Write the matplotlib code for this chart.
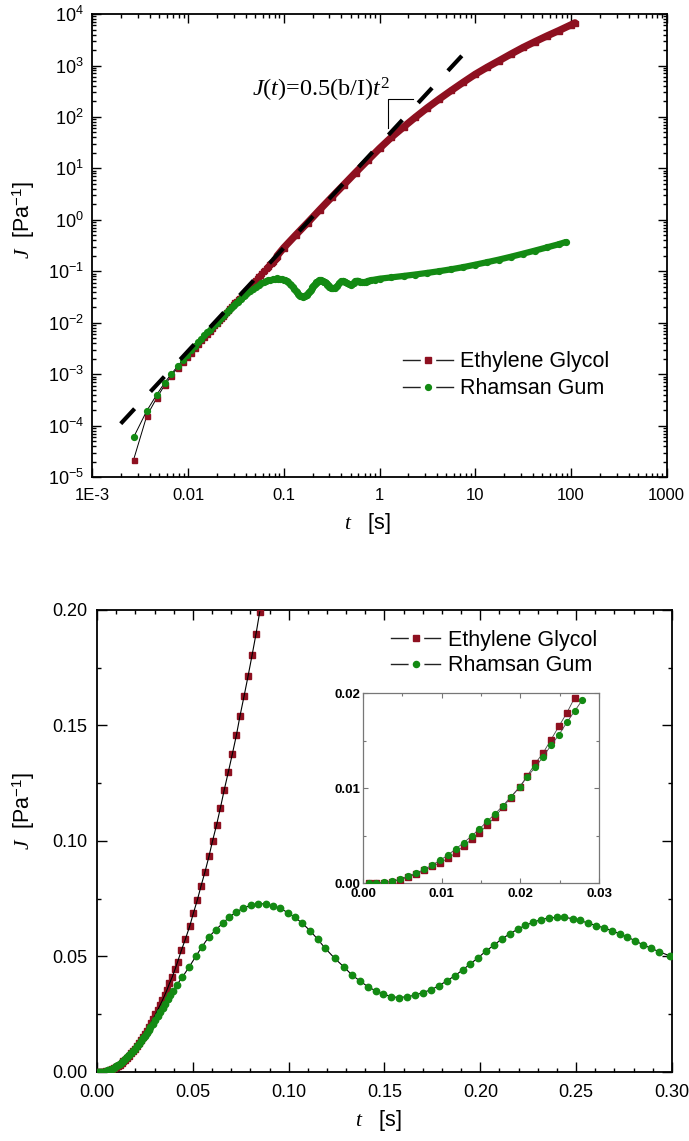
import numpy as np
import matplotlib
matplotlib.use('Agg')
from matplotlib import pyplot as plt
from matplotlib.lines import Line2D
from matplotlib.legend_handler import HandlerTuple
from matplotlib.ticker import FixedLocator, FixedFormatter, LogLocator, MultipleLocator, FormatStrFormatter, NullFormatter

plt.rcParams['font.family'] = 'Liberation Sans'
plt.rcParams['mathtext.fontset'] = 'custom'
plt.rcParams['mathtext.rm'] = 'Liberation Serif'
plt.rcParams['mathtext.it'] = 'Liberation Serif:italic'
plt.rcParams['mathtext.bf'] = 'Liberation Serif:bold'

# ---- short time data (shared by inset, linear plot and log plot) ----
t_early = [0.0007, 0.0017, 0.0027, 0.0037, 0.0047, 0.0057, 0.0067, 0.0078, 0.0088, 0.0098,
           0.0108, 0.0118, 0.0128, 0.0138, 0.0148, 0.0158, 0.0168, 0.0178, 0.0188, 0.0199,
           0.0209, 0.0219, 0.0229, 0.0239, 0.0249, 0.0259, 0.0269, 0.0279]
J_eg_early = [0, 0, 2.2e-5, 1.55e-4, 3.45e-4, 6.2e-4, 9.3e-4, 1.35e-3, 1.75e-3, 2.15e-3,
              2.6e-3, 3.2e-3, 3.9e-3, 4.6e-3, 5.3e-3, 6.1e-3, 7.0e-3, 8.0e-3, 9.0e-3, 10.1e-3,
              11.3e-3, 12.6e-3, 13.7e-3, 15.1e-3, 16.5e-3, 17.9e-3, 19.5e-3]
J_rg_early = [0, 0, 6e-5, 1.95e-4, 4.0e-4, 6.9e-4, 1.02e-3, 1.45e-3, 1.9e-3, 2.4e-3,
              2.95e-3, 3.6e-3, 4.25e-3, 4.95e-3, 5.7e-3, 6.5e-3, 7.3e-3, 8.15e-3, 9.1e-3, 10.1e-3,
              11.2e-3, 12.2e-3, 13.3e-3, 14.5e-3, 15.6e-3, 16.9e-3, 18.1e-3, 19.3e-3]

t_eg_mid = [0.0281, 0.0293, 0.0305, 0.0317, 0.0329, 0.0341, 0.0353, 0.0365, 0.0378, 0.0393,
            0.0407, 0.0421, 0.0440, 0.0461, 0.0484, 0.0503, 0.0524, 0.0543, 0.0563, 0.0584,
            0.0603, 0.0624, 0.0644, 0.0664, 0.0685, 0.0706, 0.0727, 0.0746, 0.0767, 0.0788,
            0.0809, 0.0830, 0.0849]
J_eg_mid = [0.0212, 0.0230, 0.0249, 0.0269, 0.0289, 0.0310, 0.0332, 0.0355, 0.0383, 0.0412,
            0.0444, 0.0478, 0.0526, 0.0575, 0.0632, 0.0688, 0.0746, 0.0806, 0.0865, 0.0933,
            0.1001, 0.1070, 0.1144, 0.1222, 0.1298, 0.1376, 0.1457, 0.1541, 0.1626, 0.1713,
            0.1804, 0.1898, 0.1992]

t_rg_mid = [0.0292, 0.0305, 0.0318, 0.0331, 0.0344, 0.0357, 0.0370, 0.0383, 0.0396, 0.0416,
            0.0445, 0.0482, 0.0515, 0.0546, 0.0583, 0.0619, 0.0656, 0.0690, 0.0725, 0.0763,
            0.0803, 0.0842, 0.0880, 0.0920, 0.0957, 0.0995, 0.1033, 0.1071, 0.1111, 0.1151,
            0.1190, 0.1240, 0.1289, 0.1330, 0.1372, 0.1412, 0.1454, 0.1494, 0.1536, 0.1576,
            0.1617, 0.1659, 0.1699, 0.1741, 0.1783, 0.1825, 0.1866, 0.1908, 0.1948, 0.1988,
            0.2030, 0.2071, 0.2111, 0.2153, 0.2195, 0.2235, 0.2277, 0.2317, 0.2359, 0.2399,
            0.2439, 0.2481, 0.2521, 0.2563, 0.2603, 0.2645, 0.2687, 0.2727, 0.2767, 0.2809,
            0.2849, 0.2891, 0.2931, 0.2988]
J_rg_mid = [0.0208, 0.0225, 0.0242, 0.0260, 0.0278, 0.0296, 0.0314, 0.0332, 0.0350, 0.0377,
            0.0410, 0.0456, 0.0500, 0.0540, 0.0584, 0.0615, 0.0644, 0.0670, 0.0692, 0.0709,
            0.0722, 0.0729, 0.0727, 0.0719, 0.0708, 0.0690, 0.0669, 0.0644, 0.0612, 0.0575,
            0.0536, 0.0492, 0.0454, 0.0420, 0.0394, 0.0370, 0.0351, 0.0337, 0.0326, 0.0322,
            0.0326, 0.0332, 0.0344, 0.0355, 0.0373, 0.0394, 0.0416, 0.0442, 0.0468, 0.0494,
            0.0524, 0.0549, 0.0575, 0.0598, 0.0618, 0.0635, 0.0648, 0.0660, 0.0667, 0.0669,
            0.0669, 0.0664, 0.0656, 0.0644, 0.0634, 0.0624, 0.0611, 0.0598, 0.0584, 0.0568,
            0.0550, 0.0536, 0.0521, 0.0503]

# ---- long time data (log plot only) ----
t_eg_long = [0.1, 0.133, 0.178, 0.237, 0.316, 0.422, 0.562, 0.75, 1.0, 1.33, 1.78, 2.37, 3.16,
             4.22, 5.62, 7.5, 10, 13.3, 17.8, 23.7, 31.6, 42.2, 56.2, 75, 100, 110]
J_eg_long = [0.288, 0.507, 0.891, 1.57, 2.75, 4.79, 8.32, 14.3, 24.5, 40.3, 63.8, 98.9, 151,
             224, 327, 473, 676, 923, 1245, 1679, 2239, 2917, 3758, 4786, 6166, 6761]

t_rg_long = [0.31, 0.32, 0.33, 0.34, 0.36, 0.38, 0.40, 0.42, 0.44, 0.46, 0.48, 0.50, 0.52, 0.54,
             0.56, 0.58, 0.60, 0.63, 0.66, 0.69, 0.72, 0.76, 0.82, 0.9, 1.0, 1.33, 1.78, 2.37,
             3.16, 4.22, 5.62, 7.5, 10, 13.3, 17.8, 23.7, 31.6, 42.2, 56.2, 75, 88]
J_rg_long = [0.0478, 0.0468, 0.0466, 0.0474, 0.0515, 0.0585, 0.0640, 0.0652, 0.0630, 0.0593,
             0.0562, 0.0552, 0.0568, 0.0605, 0.0640, 0.0656, 0.0652, 0.0630, 0.0612, 0.0612,
             0.0628, 0.0655, 0.0675, 0.0695, 0.0720, 0.0765, 0.0815, 0.0870, 0.0935, 0.1010,
             0.1100, 0.1210, 0.1350, 0.1510, 0.1700, 0.1930, 0.2210, 0.2540, 0.2930, 0.3380,
             0.3720]

# J(t) = 0.5(b/I) t^2 guide line, end points
t_guide = [0.00198, 7.53]
J_guide = [1.1e-4, 1670]

labels = ['Ethylene Glycol', 'Rhamsan Gum']
x_log_ticks = [1e-3, 1e-2, 1e-1, 1, 10, 100, 1000]
x_log_labels = ['1E-3', '0.01', '0.1', '1', '10', '100', '1000']
y_log_exps = [-5, -4, -3, -2, -1, 0, 1, 2, 3, 4]

red = '#8e1020'
green = '#138a13'


def pos(a):
    a = np.asarray(a, float)
    return np.where(a > 0, a, np.nan)


def style_ticks(ax, major=6.5, minor=3.2):
    ax.tick_params(which='both', direction='in', top=True, right=True, width=1.0)
    ax.tick_params(which='major', length=major)
    ax.tick_params(which='minor', length=minor)
    for s in ax.spines.values():
        s.set_linewidth(1.3)


def legend_handles(ms_sq, ms_ci):
    # line, white gap round the symbol, then the symbol itself
    h1 = (Line2D([], [], color='#222222', lw=1.0, marker='s', ms=ms_sq + 6, mfc='white', mec='white'),
          Line2D([], [], ls='none', marker='s', ms=ms_sq, mfc=red, mec=red))
    h2 = (Line2D([], [], color='#222222', lw=1.0, marker='o', ms=ms_ci + 6, mfc='white', mec='white'),
          Line2D([], [], ls='none', marker='o', ms=ms_ci, mfc=green, mec=green))
    return [h1, h2]


fig = plt.figure(figsize=(6.89, 11.41), dpi=100)

# ================= top: log-log =================
ax1 = fig.add_axes([0.134, 0.5817, 0.8337, 0.4060])
ax1.set_xscale('log')
ax1.set_yscale('log')

t_eg_all = np.r_[t_early[:27], t_eg_mid, t_eg_long]
J_eg_all = np.r_[J_eg_early, J_eg_mid, J_eg_long]
t_rg_all = np.r_[t_early, t_rg_mid, t_rg_long]
J_rg_all = np.r_[J_rg_early, J_rg_mid, J_rg_long]

ax1.plot(t_eg_all, pos(J_eg_all), color='k', lw=0.7, zorder=2)
ax1.plot(np.r_[t_eg_mid[-1], t_eg_long], np.r_[J_eg_mid[-1], J_eg_long], color=red, lw=5.2,
         solid_capstyle='round', solid_joinstyle='round', zorder=2.5)
ax1.plot(t_eg_all, pos(J_eg_all), ls='none', marker='s', ms=3.6, mfc=red, mec=red, zorder=3)

ax1.plot(t_rg_all, pos(J_rg_all), color='k', lw=0.7, zorder=4)
ax1.plot(np.r_[t_rg_mid[-1], t_rg_long], np.r_[J_rg_mid[-1], J_rg_long], color=green, lw=4.5,
         solid_capstyle='round', solid_joinstyle='round', zorder=4.5)
ax1.plot(t_rg_all, pos(J_rg_all), ls='none', marker='o', ms=4.2, mfc=green, mec=green, zorder=5)

ax1.plot(t_guide, J_guide, color='k', lw=3, ls=(0, (4.9, 5.6)), dash_capstyle='butt', zorder=6)

# annotation
ax1.text(0.047, 334, r'$J$($t$)=0.5(b/I)$t^{2}$', fontsize=17.5, family='Liberation Serif',
         ha='left', va='center')
ax1.plot([1.22, 1.22, 2.26], [62, 224, 224], color='k', lw=0.8, zorder=6)

ax1.set_xlim(1e-3, 1000)
ax1.set_ylim(1e-5, 1e4)
ax1.xaxis.set_major_locator(FixedLocator(x_log_ticks))
ax1.xaxis.set_major_formatter(FixedFormatter(x_log_labels))
ax1.xaxis.set_minor_locator(LogLocator(base=10, subs=np.arange(2, 10), numticks=20))
ax1.xaxis.set_minor_formatter(NullFormatter())
ax1.yaxis.set_major_locator(FixedLocator([10.0 ** e for e in y_log_exps]))
ax1.yaxis.set_major_formatter(FixedFormatter([r'$\mathdefault{10^{%d}}$' % e for e in y_log_exps]))
ax1.yaxis.set_minor_locator(LogLocator(base=10, subs=np.arange(2, 10), numticks=20))
ax1.yaxis.set_minor_formatter(NullFormatter())
style_ticks(ax1)
ax1.tick_params(axis='x', which='both', labelsize=12, pad=8)
ax1.tick_params(axis='y', which='both', labelsize=13, pad=6)

ax1.set_xlabel(r'$t$   [s]', fontsize=15.5)
ax1.set_ylabel(r'$J$  [Pa$^{\mathdefault{-1}}$]', fontsize=15.5)
ax1.xaxis.set_label_coords(0.48, -0.073)
ax1.yaxis.set_label_coords(-0.096, 0.555)

ax1.legend(legend_handles(4.0, 4.2), labels, handler_map={tuple: HandlerTuple(ndivide=1)},
           loc='upper left', bbox_to_anchor=(0.541, 0.272), frameon=False, fontsize=15.5,
           borderpad=0, borderaxespad=0, handlelength=2.3, handletextpad=0.35, labelspacing=0.28)

# ================= bottom: linear =================
ax2 = fig.add_axes([0.1408, 0.0605, 0.8345, 0.4049])
t_eg_lin = np.r_[t_early[:27], t_eg_mid]
J_eg_lin = np.r_[J_eg_early, J_eg_mid]
t_rg_lin = np.r_[t_early, t_rg_mid]
J_rg_lin = np.r_[J_rg_early, J_rg_mid]

ax2.plot(t_eg_lin, J_eg_lin, ls='none', marker='s', ms=4.2, mfc=red, mec=red, zorder=3)
ax2.plot(t_eg_lin, J_eg_lin, color='k', lw=0.8, zorder=3.5)
ax2.plot(t_rg_lin, J_rg_lin, color='k', lw=0.8, zorder=4)
ax2.plot(t_rg_lin, J_rg_lin, ls='none', marker='o', ms=4.6, mfc=green, mec=green, zorder=5)

ax2.set_xlim(0, 0.30)
ax2.set_ylim(0, 0.20)
ax2.xaxis.set_major_locator(MultipleLocator(0.05))
ax2.xaxis.set_minor_locator(MultipleLocator(0.01))
ax2.yaxis.set_major_locator(MultipleLocator(0.05))
ax2.yaxis.set_minor_locator(MultipleLocator(0.025))
ax2.xaxis.set_major_formatter(FormatStrFormatter('%.2f'))
ax2.yaxis.set_major_formatter(FormatStrFormatter('%.2f'))
style_ticks(ax2, major=7, minor=3.2)
ax2.tick_params(axis='x', labelsize=13, pad=9)
ax2.tick_params(axis='y', labelsize=13, pad=7)
ax2.set_xlabel(r'$t$   [s]', fontsize=15.5)
ax2.set_ylabel(r'$J$  [Pa$^{\mathdefault{-1}}$]', fontsize=15.5)
ax2.xaxis.set_label_coords(0.489, -0.078)
ax2.yaxis.set_label_coords(-0.105, 0.565)

ax2.legend(legend_handles(4.0, 4.4), labels, handler_map={tuple: HandlerTuple(ndivide=1)},
           loc='upper left', bbox_to_anchor=(0.511, 0.957), frameon=False, fontsize=15.5,
           borderpad=0, borderaxespad=0, handlelength=2.3, handletextpad=0.35, labelspacing=0.2)

# ---- inset ----
ax3 = fig.add_axes([0.5269, 0.2261, 0.3425, 0.1665])
ax3.plot(t_early[:27], J_eg_early, color='#444444', lw=0.6, marker='s', ms=3.8,
         mfc=red, mec=red, zorder=3)
ax3.plot(t_early, J_rg_early, color='#444444', lw=0.6, marker='o', ms=4.2,
         mfc=green, mec=green, zorder=4)
ax3.set_xlim(0, 0.03)
ax3.set_ylim(0, 0.02)
ax3.xaxis.set_major_locator(MultipleLocator(0.01))
ax3.xaxis.set_minor_locator(MultipleLocator(0.005))
ax3.yaxis.set_major_locator(MultipleLocator(0.01))
ax3.yaxis.set_minor_locator(MultipleLocator(0.005))
ax3.xaxis.set_major_formatter(FormatStrFormatter('%.2f'))
ax3.yaxis.set_major_formatter(FormatStrFormatter('%.2f'))
ax3.tick_params(which='both', direction='in', top=True, right=True, color='#777777', width=0.8,
                labelsize=9.5)
ax3.tick_params(axis='x', pad=3.5)
ax3.tick_params(axis='y', pad=2)
ax3.tick_params(which='major', length=3.5)
ax3.tick_params(which='minor', length=2)
for s in ax3.spines.values():
    s.set_linewidth(0.9)
    s.set_color('#777777')
for lab in ax3.get_xticklabels() + ax3.get_yticklabels():
    lab.set_fontweight('bold')

fig.savefig('out.png', dpi=100)
